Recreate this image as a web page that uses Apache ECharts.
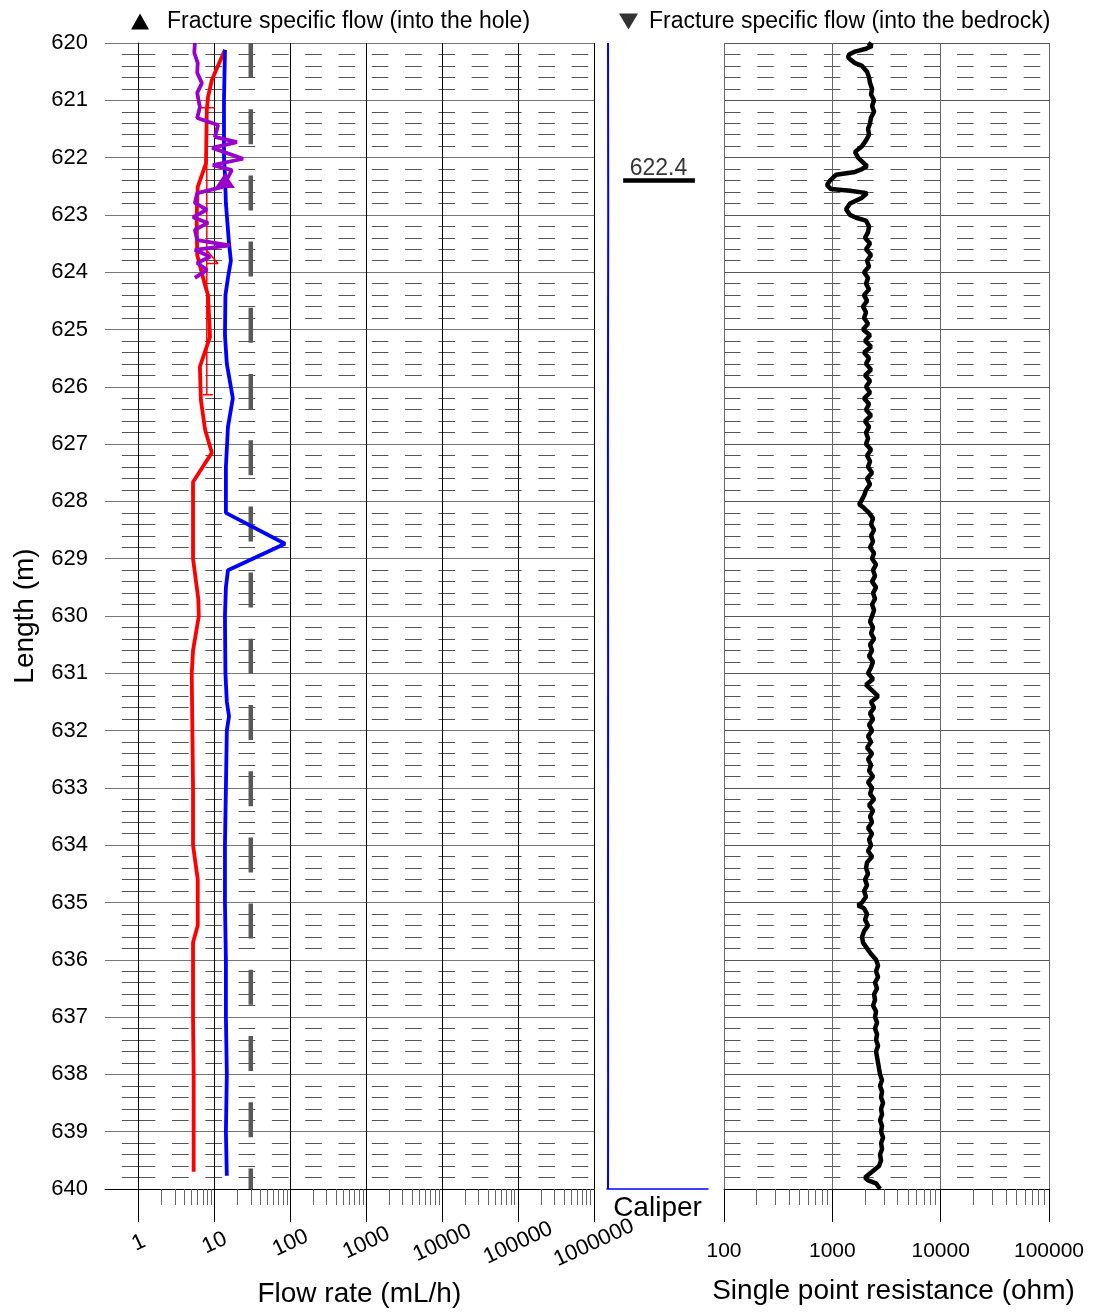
<!DOCTYPE html>
<html>
<head>
<meta charset="utf-8">
<title>Flow log 620-640 m</title>
<script src="https://cdn.jsdelivr.net/npm/echarts@6.0.0/dist/echarts.min.js"></script>
<style>
html, body { margin: 0; padding: 0; background: #fff; }
#chart { width: 1095px; height: 1313px; }
</style>
</head>
<body>
<div id="chart"></div>
<script>
// depth range (m)
var depthMin = 620;
var depthMax = 640;

// flow rate (mL/h), each point [flow, depth]
var flowRed = [
	[13.7, 620.12], [10.1, 620.52], [9.2, 620.65], [8.2, 620.94], [7.9, 621.17],
	[7.7, 622.1], [6.0, 622.51], [5.8, 623.04], [5.9, 623.7], [7.4, 624.2],
	[8.2, 624.4], [8.7, 625.13], [6.4, 625.65], [6.6, 626.23], [7.5, 626.75],
	[9.2, 627.15], [5.2, 627.66], [5.2, 628.15], [5.2, 629.0], [6.1, 629.7],
	[6.2, 630.0], [5.2, 630.6], [5.0, 631.0], [5.1, 632.0], [5.2, 633.0],
	[5.2, 634.0], [6.0, 634.6], [6.0, 635.4], [5.2, 635.7], [5.2, 637.0],
	[5.3, 638.0], [5.3, 639.0], [5.3, 639.7]
];
// thin red section line ('-' breaks the line)
var sectionFlow = [
	[6.4, 621.13], [10.1, 621.13], ['-', '-'],
	[7.9, 621.13], [7.9, 626.14], ['-', '-'],
	[7.0, 626.14], [9.5, 626.14], ['-', '-'],
	[7.9, 623.62], [11.1, 623.85], [7.9, 623.85]
];
var flowBlue = [
	[13.7, 620.12], [13.3, 621.0], [13.3, 622.0], [13.7, 622.3], [14.1, 622.8],
	[15.5, 623.5], [16.4, 623.8], [15.0, 624.1], [13.9, 624.4], [13.7, 625.1],
	[14.5, 625.6], [17.4, 626.2], [15.0, 626.7], [14.1, 627.4], [14.1, 628.2],
	[84.7, 628.74], [15.0, 629.2], [14.1, 629.5], [13.7, 630.0], [13.9, 631.0],
	[14.5, 631.5], [15.5, 631.75], [14.5, 632.0], [14.1, 633.0], [13.7, 634.0],
	[13.7, 635.0], [14.1, 636.0], [14.1, 637.0], [14.5, 638.0], [14.1, 639.0],
	[14.5, 639.77]
];
var flowPurple = [
	[5.5, 620.0], [5.4, 620.17], [6.0, 620.35], [5.9, 620.52], [6.8, 620.7],
	[5.9, 620.87], [6.4, 621.12], [5.9, 621.31], [11.1, 621.43], [10.1, 621.64],
	[19.7, 621.73], [9.3, 621.83], [23.7, 622.02], [9.5, 622.13], [16.9, 622.22],
	[13.7, 622.44], [12.9, 622.51], [5.9, 622.62], [5.5, 622.79], [7.9, 622.91],
	[5.2, 623.04], [8.2, 623.14], [5.5, 623.26], [5.9, 623.44], [15.9, 623.53],
	[5.5, 623.61], [8.7, 623.73], [5.9, 623.84], [7.9, 623.96], [5.5, 624.1]
];
// measurement limit (mL/h)
var limitLine = [[30, 620], [30, 640]];
// fracture specific flow
var fractureIntoHole = [[13.7, 622.4]];
var fractureIntoBedrock = [];
var fractureDepths = [622.4];

// caliper, [value, depth]
var caliper = [[1.0, 620], [1.2, 623], [0.9, 627], [1.1, 631], [1.0, 635], [1.1, 638], [1.0, 640]];

// single point resistance (ohm), [ohm, depth]
var resistance = [
	[2136, 620.0], [2326, 620.05], [2047, 620.1], [1620, 620.15], [1427, 620.2],
	[1397, 620.25], [1488, 620.3], [1620, 620.35], [1880, 620.4], [2091, 620.5],
	[2182, 620.6], [2229, 620.7], [2326, 620.8], [2276, 620.9], [2427, 621.0],
	[2326, 621.1], [2427, 621.2], [2276, 621.3], [2229, 621.4], [2136, 621.5],
	[2182, 621.6], [2047, 621.7], [1880, 621.8], [1620, 621.9], [1727, 622.0],
	[1962, 622.1], [2091, 622.15], [1880, 622.2], [1620, 622.25], [1081, 622.3],
	[952, 622.4], [893, 622.48], [972, 622.55], [1456, 622.58], [2091, 622.62],
	[1880, 622.7], [1456, 622.8], [1338, 622.9], [1456, 623.0], [1655, 623.05],
	[2047, 623.1], [2182, 623.2], [2136, 623.3], [2004, 623.4], [2229, 623.5],
	[2047, 623.6], [2276, 623.7], [2091, 623.8], [2182, 623.9], [1962, 624.0],
	[2136, 624.1], [2047, 624.2], [2182, 624.3], [1962, 624.4], [2091, 624.5],
	[1920, 624.6], [2047, 624.7], [1962, 624.8], [2136, 624.9], [1920, 625.0],
	[2229, 625.1], [2004, 625.2], [2276, 625.3], [1962, 625.4], [2182, 625.5],
	[2047, 625.6], [2276, 625.7], [2004, 625.8], [2229, 625.9], [2047, 626.0],
	[2229, 626.1], [1962, 626.2], [2182, 626.3], [2047, 626.4], [2276, 626.5],
	[2004, 626.6], [2182, 626.7], [2047, 626.8], [2136, 626.9], [2047, 627.0],
	[2276, 627.1], [2091, 627.2], [2229, 627.3], [2136, 627.4], [2326, 627.5],
	[2091, 627.6], [2229, 627.7], [2047, 627.8], [1962, 627.9], [1840, 628.0],
	[1764, 628.05], [1920, 628.1], [2182, 628.2], [2376, 628.3], [2276, 628.4],
	[2427, 628.5], [2276, 628.6], [2376, 628.7], [2229, 628.8], [2427, 628.9],
	[2326, 629.0], [2533, 629.1], [2376, 629.2], [2478, 629.3], [2326, 629.4],
	[2533, 629.5], [2376, 629.6], [2478, 629.7], [2326, 629.8], [2427, 629.9],
	[2326, 630.0], [2229, 630.1], [2376, 630.2], [2276, 630.3], [2427, 630.4],
	[2229, 630.5], [2326, 630.6], [2182, 630.7], [2376, 630.8], [2276, 630.9],
	[2136, 631.0], [2376, 631.1], [2047, 631.2], [2326, 631.3], [2642, 631.4],
	[2276, 631.5], [2427, 631.6], [2229, 631.7], [2376, 631.8], [2182, 631.9],
	[2326, 632.0], [2136, 632.1], [2276, 632.2], [2091, 632.3], [2326, 632.4],
	[2136, 632.5], [2276, 632.6], [2182, 632.7], [2376, 632.8], [2136, 632.9],
	[2326, 633.0], [2229, 633.1], [2427, 633.2], [2182, 633.3], [2376, 633.4],
	[2229, 633.5], [2326, 633.6], [2136, 633.7], [2326, 633.8], [2182, 633.9],
	[2276, 634.0], [2136, 634.1], [2326, 634.2], [2091, 634.3], [2047, 634.4],
	[2136, 634.5], [2004, 634.6], [2091, 634.7], [1962, 634.8], [2047, 634.9],
	[1880, 635.0], [1727, 635.05], [1962, 635.1], [2091, 635.2], [2004, 635.3],
	[2136, 635.4], [1962, 635.5], [1880, 635.6], [1920, 635.7], [2091, 635.8],
	[2276, 635.9], [2533, 636.0], [2642, 636.1], [2533, 636.2], [2642, 636.3],
	[2478, 636.4], [2587, 636.5], [2427, 636.6], [2478, 636.7], [2376, 636.8],
	[2533, 636.9], [2478, 637.0], [2587, 637.1], [2478, 637.2], [2587, 637.3],
	[2533, 637.4], [2642, 637.5], [2533, 637.6], [2587, 637.7], [2642, 637.8],
	[2698, 637.9], [2756, 638.0], [2876, 638.1], [2756, 638.2], [2876, 638.3],
	[2816, 638.4], [2938, 638.5], [2816, 638.6], [2876, 638.7], [2756, 638.8],
	[2876, 638.9], [2816, 639.0], [2938, 639.1], [2816, 639.2], [2876, 639.3],
	[2756, 639.4], [2816, 639.5], [2698, 639.6], [2326, 639.7], [2004, 639.8],
	[2136, 639.85], [2533, 639.9], [2756, 640.0]
];

// minor tick values of the log axes
var tickSteps = [2, 3, 4, 5, 6, 7, 8, 9];
var flowDecades = [1, 10, 100, 1000, 10000, 100000];
var ohmDecades = [100, 1000, 10000];

function minorTicks(decades) {
	var result = [];
	for (var i = 0; i < decades.length; i++) {
		for (var j = 0; j < tickSteps.length; j++) {
			result.push(decades[i] * tickSteps[j]);
		}
	}
	return result;
}

var nameIntoHole = 'Fracture specific flow (into the hole)';
var nameIntoBedrock = 'Fracture specific flow (into the bedrock)';

var myChart = echarts.init(document.getElementById('chart'));

var markLines = [];
var markLabels = [];
for (var i = 0; i < fractureDepths.length; i++) {
	markLines.push([16, fractureDepths[i]], [87, fractureDepths[i]], ['-', '-']);
	markLabels.push([51, fractureDepths[i]]);
}

var gridTop = 43;
var gridHeight = 1146;

function depthAxis(grid, extra) {
	var axis = {
		gridIndex : grid,
		type : 'value',
		inverse : true,
		min : depthMin,
		max : depthMax,
		interval : 1,
		axisLine : { show : false },
		axisTick : { show : false },
		axisLabel : { show : false },
		splitLine : { show : true, lineStyle : { color : '#777', width : 1 } },
		minorTick : { show : false, splitNumber : 5 },
		minorSplitLine : { show : true, lineStyle : { color : '#555', width : 1, type : [16.65, 16.65] } }
	};
	for (var k in extra) {
		axis[k] = extra[k];
	}
	return axis;
}

var option = {
	animation : false,
	textStyle : { fontFamily : 'Liberation Sans, Arial, sans-serif', color : '#000' },
	legend : [ {
		left : 131,
		top : 10,
		padding : 0,
		itemWidth : 31,
		itemHeight : 16,
		selectedMode : false,
		textStyle : { fontSize : 23, color : '#000' },
		data : [ {
			name : nameIntoHole,
			icon : 'path://M0,16L9,0L18,16Z M31,16L31,16',
			itemStyle : { color : '#000' }
		} ]
	}, {
		left : 619,
		top : 10,
		padding : 0,
		itemWidth : 25,
		itemHeight : 16,
		selectedMode : false,
		textStyle : { fontSize : 23, color : '#000' },
		data : [ {
			name : nameIntoBedrock,
			icon : 'path://M0,0L19,0L9.5,16Z M25,0L25,0',
			itemStyle : { color : '#000' }
		} ]
	} ],
	grid : [
		{ left : 105, top : gridTop, width : 33.7, height : gridHeight },
		{ left : 138.7, top : gridTop, width : 455.3, height : gridHeight },
		{ left : 607, top : gridTop, width : 101, height : gridHeight },
		{ left : 724, top : gridTop, width : 325, height : gridHeight }
	],
	xAxis : [ {
		gridIndex : 0,
		type : 'value',
		min : 0,
		max : 1,
		axisLine : { show : true, lineStyle : { color : '#000' } },
		axisTick : { show : false },
		axisLabel : { show : false },
		splitLine : { show : false }
	}, {
		gridIndex : 1,
		type : 'log',
		position : 'bottom',
		min : 1,
		max : 1000000,
		name : 'Flow rate (mL/h)',
		nameLocation : 'middle',
		nameGap : 91,
		nameTextStyle : { fontSize : 28, color : '#000', padding : [ 0, 14, 0, 0 ] },
		axisLine : { show : true, lineStyle : { color : '#000' } },
		axisTick : { show : true, length : 33, lineStyle : { color : '#000' } },
		axisLabel : {
			rotate : 25,
			align : 'center',
			verticalAlign : 'middle',
			margin : 54,
			fontSize : 22,
			color : '#000',
			formatter : function(v) {
				return String(Math.round(v));
			}
		},
		splitLine : { show : true, lineStyle : { color : '#000' } }
	}, {
		gridIndex : 1,
		type : 'log',
		position : 'bottom',
		min : 1,
		max : 1000000,
		axisLine : { show : false },
		axisLabel : { show : false },
		splitLine : { show : false },
		axisTick : { show : true, length : 16, customValues : minorTicks(flowDecades), lineStyle : { color : '#666' } }
	}, {
		gridIndex : 2,
		type : 'value',
		position : 'bottom',
		min : 0,
		max : 100,
		name : 'Caliper',
		nameLocation : 'middle',
		nameGap : 5,
		nameTextStyle : { fontSize : 28, color : '#000' },
		axisLine : { show : true, lineStyle : { color : '#0000ff', width : 1.5 } },
		axisTick : { show : false },
		axisLabel : { show : false },
		splitLine : { show : false }
	}, {
		gridIndex : 3,
		type : 'log',
		position : 'bottom',
		min : 100,
		max : 100000,
		name : 'Single point resistance (ohm)',
		nameLocation : 'middle',
		nameGap : 88,
		nameTextStyle : { fontSize : 28, color : '#000', padding : [ 0, 0, 0, 14 ] },
		axisLine : { show : true, lineStyle : { color : '#000' } },
		axisTick : { show : true, length : 33, lineStyle : { color : '#000' } },
		axisLabel : {
			margin : 52,
			fontSize : 21,
			color : '#000',
			formatter : function(v) {
				return String(Math.round(v));
			}
		},
		splitLine : { show : true, lineStyle : { color : '#666' } }
	}, {
		gridIndex : 3,
		type : 'log',
		position : 'bottom',
		min : 100,
		max : 100000,
		axisLine : { show : false },
		axisLabel : { show : false },
		splitLine : { show : false },
		axisTick : { show : true, length : 16, customValues : minorTicks(ohmDecades), lineStyle : { color : '#666' } }
	} ],
	yAxis : [
		depthAxis(0, {
			name : 'Length (m)',
			nameLocation : 'middle',
			nameGap : 66,
			nameTextStyle : { fontSize : 28, color : '#000' },
			axisLabel : { show : true, fontSize : 22, color : '#000', margin : 17 },
			minorSplitLine : { show : true, lineStyle : { color : '#555', width : 1, type : [16.85, 16.85], dashOffset : 16.85 } }
		}),
		depthAxis(1, {
			axisLine : { show : true, lineStyle : { color : '#000' } }
		}),
		depthAxis(2, { show : false }),
		depthAxis(3, {
			splitLine : { show : true, lineStyle : { color : '#555', width : 1 } },
			minorSplitLine : { show : true, lineStyle : { color : '#555', width : 1, type : [16.5, 16.8] } }
		})
	],
	series : [ {
		name : 'limit',
		type : 'line',
		xAxisIndex : 1,
		yAxisIndex : 1,
		data : limitLine,
		symbol : 'none',
		silent : true,
		lineStyle : { color : '#595959', width : 4.5, type : [35, 31.2] },
		itemStyle : { color : '#595959' }
	}, {
		name : 'section',
		type : 'line',
		xAxisIndex : 1,
		yAxisIndex : 1,
		data : sectionFlow,
		symbol : 'none',
		connectNulls : false,
		lineStyle : { color : '#ff0000', width : 1.5 },
		itemStyle : { color : '#ff0000' }
	}, {
		name : 'red',
		type : 'line',
		xAxisIndex : 1,
		yAxisIndex : 1,
		data : flowRed,
		symbol : 'none',
		lineStyle : { color : '#ff0000', width : 3.8 },
		itemStyle : { color : '#ff0000' }
	}, {
		name : 'blue',
		type : 'line',
		xAxisIndex : 1,
		yAxisIndex : 1,
		data : flowBlue,
		symbol : 'none',
		lineStyle : { color : '#0000ff', width : 3.8 },
		itemStyle : { color : '#0000ff' }
	}, {
		name : 'purple',
		type : 'line',
		xAxisIndex : 1,
		yAxisIndex : 1,
		data : flowPurple,
		symbol : 'none',
		lineStyle : { color : '#9900cc', width : 3.8 },
		itemStyle : { color : '#9900cc' }
	}, {
		name : nameIntoHole,
		type : 'scatter',
		xAxisIndex : 1,
		yAxisIndex : 1,
		data : fractureIntoHole,
		symbol : 'triangle',
		symbolSize : [ 20, 15 ],
		itemStyle : { color : '#9900cc', opacity : 1 },
		z : 5
	}, {
		name : nameIntoBedrock,
		type : 'scatter',
		xAxisIndex : 1,
		yAxisIndex : 1,
		data : fractureIntoBedrock,
		symbol : 'path://M0,0L2,0L1,2Z',
		symbolSize : [ 20, 15 ],
		itemStyle : { color : '#000' }
	}, {
		name : 'caliper',
		type : 'line',
		xAxisIndex : 3,
		yAxisIndex : 2,
		data : caliper,
		symbol : 'none',
		lineStyle : { color : '#0000ff', width : 2 },
		itemStyle : { color : '#0000ff' }
	}, {
		name : 'fracture',
		type : 'line',
		xAxisIndex : 3,
		yAxisIndex : 2,
		data : markLines,
		symbol : 'none',
		connectNulls : false,
		lineStyle : { color : '#000', width : 4.5 },
		itemStyle : { color : '#000' }
	}, {
		name : 'fracture label',
		type : 'scatter',
		xAxisIndex : 3,
		yAxisIndex : 2,
		data : markLabels,
		symbolSize : 0,
		label : {
			show : true,
			position : 'top',
			distance : 0,
			fontSize : 23,
			color : '#000',
			formatter : function(p) {
				return p.value[1].toFixed(1);
			}
		}
	}, {
		name : 'resistance',
		type : 'line',
		xAxisIndex : 4,
		yAxisIndex : 3,
		data : resistance,
		symbol : 'none',
		lineStyle : { color : '#000', width : 4.5 },
		itemStyle : { color : '#000' }
	} ]
};

myChart.setOption(option);
</script>
</body>
</html>
